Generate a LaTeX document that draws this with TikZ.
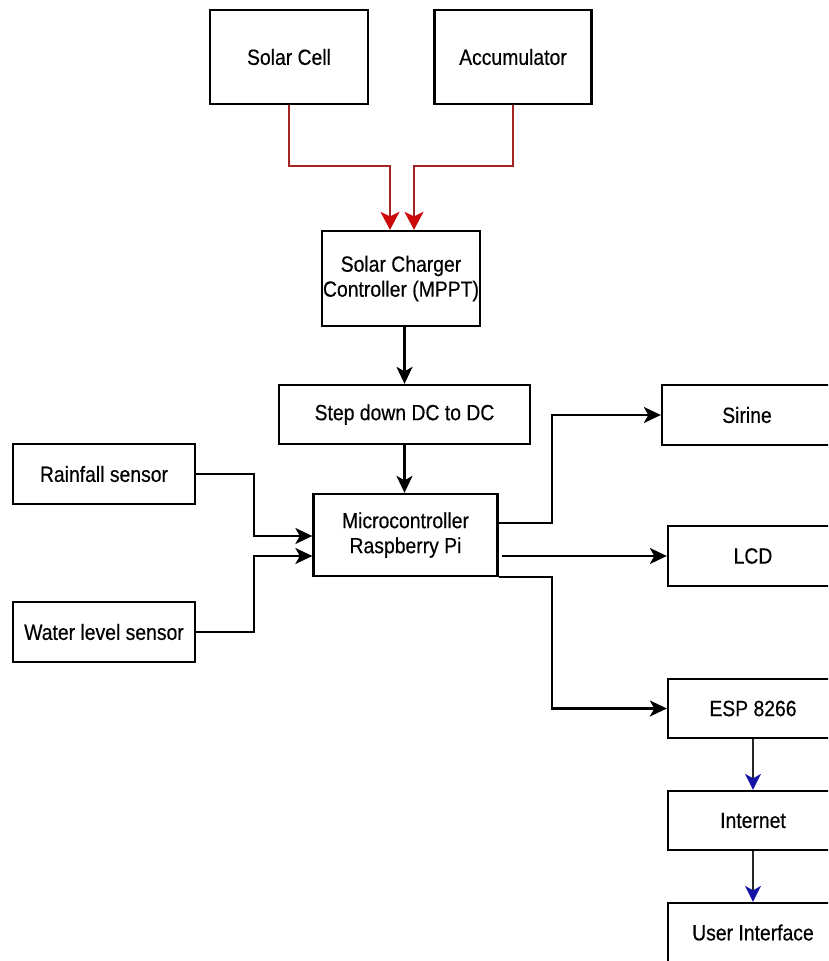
\documentclass[tikz,border=0pt]{standalone}
\usepackage{fontspec}
\setmainfont{Liberation Sans}[FakeStretch=0.88,FakeBold=0.4]
\usetikzlibrary{arrows.meta}
\definecolor{darkred}{RGB}{165,35,35}
\definecolor{headred}{RGB}{205,10,10}
\definecolor{headblue}{RGB}{20,20,165}
\begin{document}
\begin{tikzpicture}[x=1pt,y=-1pt,
  box/.style={draw=black,line width=2.3pt,rectangle,inner sep=0pt,align=center,
    font=\fontsize{22}{25}\selectfont},
  arr/.style={line width=2.1pt,-{Stealth[length=17pt,width=16pt,inset=4.5pt]}},
  redarr/.style={line width=1.8pt,draw=darkred,-{Stealth[length=18pt,width=19pt,inset=4.5pt,color=headred]}},
  bluearr/.style={line width=2pt,draw=black!85,-{Stealth[length=16pt,width=16pt,inset=4.5pt,color=headblue]}}]
\useasboundingbox (0,0) rectangle (828,961);
\clip (0,0) rectangle (828,961);
\fill[white] (0,0) rectangle (828,961);

\node[box,minimum width=158pt,minimum height=94pt] (sc) at (289,57) {Solar Cell};
\node[box,minimum width=157pt,minimum height=94pt] (ac) at (513,57) {Accumulator};
\node[box,minimum width=158pt,minimum height=95pt] (cc) at (401,278.5) {Solar Charger\\Controller (MPPT)};
\node[box,minimum width=251pt,minimum height=59pt] (sd) at (404.5,414.5) {Step down DC to DC};
\node[box,minimum width=184pt,minimum height=82pt] (mc) at (405.5,535) {Microcontroller\\Raspberry Pi};
\node[box,minimum width=182pt,minimum height=60pt] (rf) at (104,474) {Rainfall sensor};
\node[box,minimum width=182pt,minimum height=60pt] (wl) at (104,632) {Water level sensor};
\node[box,minimum width=170pt,minimum height=60pt] (si) at (747,415) {Sirine};
\node[box,minimum width=170pt,minimum height=60pt] (lcd) at (753,556) {LCD};
\node[box,minimum width=170pt,minimum height=59pt] (esp) at (753,708.5) {ESP 8266};
\node[box,minimum width=170pt,minimum height=59pt] (inet) at (753,820.5) {Internet};
\node[box,minimum width=170pt,minimum height=59pt] (ui) at (753,932.5) {User Interface};

% power inputs
\coordinate (j1) at (390,166);
\coordinate (j2) at (414,166);
\draw[redarr] (sc.south) |- (j1) -- (j1 |- cc.north);
\draw[redarr] (ac.south) |- (j2) -- (j2 |- cc.north);

\draw[arr] (sd.north |- cc.south) -- (sd.north);
\draw[arr] (sd.south) -- (sd.south |- mc.north);

% sensors
\coordinate (r1) at (254,536);
\coordinate (w1) at (254,556);
\draw[arr] (rf.east) -| (r1) -- (r1 -| mc.west);
\draw[arr] (wl.east) -| (w1) -- (w1 -| mc.west);

% outputs
\coordinate (s1) at (552,415);
\draw[arr] ([yshift=12pt]mc.east) -| (s1) -- (si.west);
\draw[arr] ([xshift=3pt,yshift=-21pt]mc.east) -- (lcd.west);
\coordinate (e1) at (552,708.5);
\draw[arr] (mc.south east) -| (e1) -- (esp.west);

\draw[bluearr] (esp.south) -- (inet.north);
\draw[bluearr] (inet.south) -- (ui.north);
\end{tikzpicture}
\end{document}
